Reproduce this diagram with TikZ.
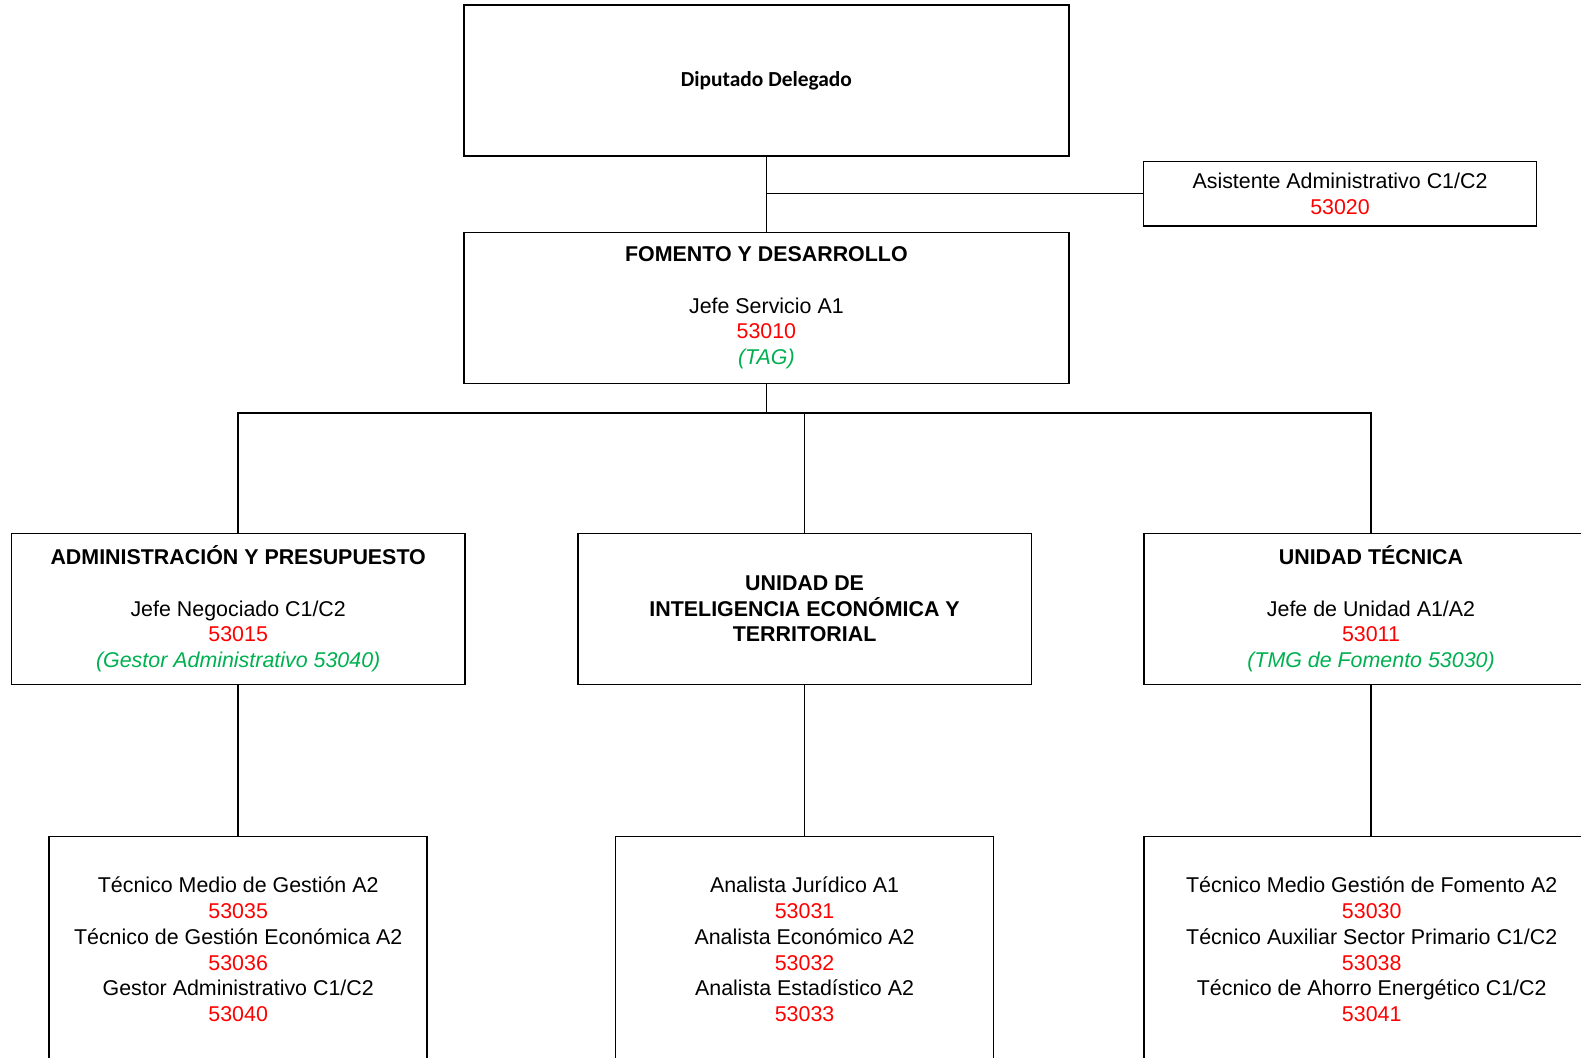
\documentclass[tikz,border=0pt]{standalone}
\usepackage{fontspec}
\setmainfont{Liberation Sans}
\newfontfamily\calibri{Carlito}
\usepackage{tikz}
\usetikzlibrary{positioning,calc}
\definecolor{codered}{RGB}{255,0,0}
\definecolor{notegreen}{RGB}{0,176,80}

\begin{document}
\begin{tikzpicture}[
  every node/.style={font=\fontsize{10.7}{12.85}\selectfont, align=center},
  unit/.style={draw, line width=0.8pt, inner sep=0pt, minimum width=226.9pt, minimum height=75.6pt},
  staff/.style={draw, line width=0.8pt, inner sep=0pt, minimum width=189pt, minimum height=113pt},
  link/.style={line width=0.8pt}]
\useasboundingbox (0,0) rectangle (790.5pt,-528.5pt);

\node[unit, minimum width=302.5pt, font=\calibri\bfseries\fontsize{10.7}{12}\selectfont] (DIP) at (383.2pt,-40.3pt) {Diputado Delegado};
\node[unit, minimum width=302.5pt] (FOM) [below=37.3pt of DIP] {\textbf{FOMENTO Y DESARROLLO}\\[12.85pt]Jefe Servicio A1\\\textcolor{codered}{53010}\\\textcolor{notegreen}{\itshape (TAG)}};
\node[draw, line width=0.8pt, inner sep=0pt, minimum width=196.6pt, minimum height=32.3pt] (ASIS) at (670pt,-96.8pt) {Asistente Administrativo C1/C2\\\textcolor{codered}{53020}};

\node[unit] (UIE) at (402.3pt,-304.5pt) {\textbf{UNIDAD DE}\\\textbf{INTELIGENCIA ECONÓMICA Y}\\\textbf{TERRITORIAL}};
\node[unit] (ADM) [left=55.5pt of UIE] {\textbf{ADMINISTRACIÓN Y PRESUPUESTO}\\[12.85pt]Jefe Negociado C1/C2\\\textcolor{codered}{53015}\\\textcolor{notegreen}{\itshape (Gestor Administrativo 53040)}};
\node[unit] (UTE) [right=55.5pt of UIE] {\textbf{UNIDAD TÉCNICA}\\[12.85pt]Jefe de Unidad A1/A2\\\textcolor{codered}{53011}\\\textcolor{notegreen}{\itshape (TMG de Fomento 53030)}};

\node[staff] (ADMS) [below=75.1pt of ADM] {Técnico Medio de Gestión A2\\\textcolor{codered}{53035}\\Técnico de Gestión Económica A2\\\textcolor{codered}{53036}\\Gestor Administrativo C1/C2\\\textcolor{codered}{53040}};
\node[staff] (UIES) [below=75.1pt of UIE] {Analista Jurídico A1\\\textcolor{codered}{53031}\\Analista Económico A2\\\textcolor{codered}{53032}\\Analista Estadístico A2\\\textcolor{codered}{53033}};
\node[staff, minimum width=227.6pt, anchor=north west] (UTES) at (UTE.south west |- UIES.north) {Técnico Medio Gestión de Fomento A2\\\textcolor{codered}{53030}\\Técnico Auxiliar Sector Primario C1/C2\\\textcolor{codered}{53038}\\Técnico de Ahorro Energético C1/C2\\\textcolor{codered}{53041}};

% connectors
\coordinate (BUS) at ($(FOM.south)+(0,-14.3pt)$);
\draw[link] (DIP.south) -- (FOM.north);
\draw[link] (ASIS.west) -- (ASIS.west -| DIP.south);
\draw[link] (FOM.south) -- (BUS);
\draw[link] (ADM.north) -- (ADM.north |- BUS) -- (UTE.north |- BUS) -- (UTE.north);
\draw[link] (UIE.north) -- (UIE.north |- BUS);
\draw[link] (ADM.south) -- (ADMS.north -| ADM.south);
\draw[link] (UIE.south) -- (UIES.north);
\draw[link] (UTE.south) -- (UTES.north -| UTE.south);
\end{tikzpicture}
\end{document}
